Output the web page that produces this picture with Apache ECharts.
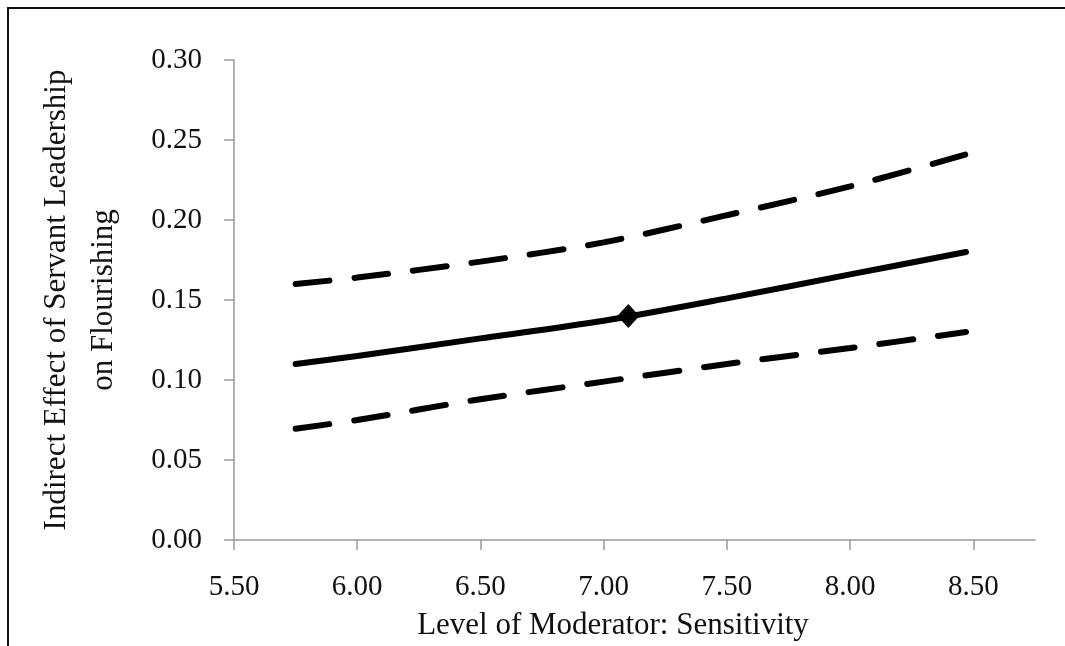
<!DOCTYPE html>
<html>
<head>
<meta charset="utf-8">
<script src="https://cdn.jsdelivr.net/npm/echarts@6/dist/echarts.min.js"></script>
<style>
html,body{margin:0;padding:0;background:#fff;}
#wrap{position:relative;width:1065px;height:646px;overflow:hidden;}
#chart{width:1065px;height:646px;}
#frame{position:absolute;left:7px;top:7px;width:1100px;height:700px;border-top:2px solid #111;border-left:2px solid #111;pointer-events:none;}
</style>
</head>
<body>
<div id="wrap"><div id="chart"></div><div id="frame"></div></div>
<script>
// Data
const xTicks = [5.5, 6.0, 6.5, 7.0, 7.5, 8.0, 8.5];
const yTicks = [0, 0.05, 0.10, 0.15, 0.20, 0.25, 0.30];
const moderatorX = [5.75, 6.0, 6.5, 7.0, 7.5, 8.0, 8.47];
const indirectEffect = [0.110, 0.115, 0.126, 0.137, 0.151, 0.166, 0.180];
const upperCI = [0.160, 0.164, 0.174, 0.186, 0.203, 0.221, 0.241];
const lowerCI = [0.0695, 0.075, 0.088, 0.099, 0.110, 0.120, 0.130];
const markerPoint = [[7.1, 0.14]];

const pairs = ys => moderatorX.map((x, i) => [x, ys[i]]);
const FONT = '"Liberation Serif", "DejaVu Serif", serif';
const LFS = 29;
const NFS = 31;

const chart = echarts.init(document.getElementById('chart'), null, {renderer: 'canvas'});
chart.setOption({
  animation: false,
  backgroundColor: '#ffffff',
  grid: {left: 234, right: 30, top: 60, bottom: 104, containLabel: false},
  xAxis: {
    type: 'value', min: 5.5, max: 8.75, interval: 0.5,
    name: 'Level of Moderator: Sensitivity',
    nameLocation: 'middle', nameGap: 70,
    nameTextStyle: {fontFamily: FONT, fontSize: NFS, color: '#111', padding: [0, 43, 0, 0]},
    axisLine: {show: true, lineStyle: {color: '#999', width: 1.5}},
    axisTick: {show: true, length: 10, inside: false, customValues: xTicks, lineStyle: {color: '#999', width: 1.5}},
    axisLabel: {customValues: xTicks, margin: 33, fontFamily: FONT, fontSize: LFS, color: '#111',
      formatter: v => v.toFixed(2)},
    splitLine: {show: false}
  },
  yAxis: {
    type: 'value', min: 0, max: 0.3, interval: 0.05,
    name: 'Indirect Effect of Servant Leadership\non Flourishing',
    nameLocation: 'middle', nameGap: 107, nameRotate: 90,
    nameTextStyle: {fontFamily: FONT, fontSize: NFS, color: '#111', lineHeight: 47},
    axisLine: {show: true, lineStyle: {color: '#999', width: 1.5}},
    axisTick: {show: true, length: 10, inside: false, lineStyle: {color: '#999', width: 1.5}},
    axisLabel: {margin: 32, fontFamily: FONT, fontSize: LFS, color: '#111',
      formatter: v => v.toFixed(2)},
    splitLine: {show: false}
  },
  series: [
    {name: 'Upper', type: 'line', data: pairs(upperCI), smooth: 0.3, showSymbol: false,
      lineStyle: {color: '#000', width: 6, type: [34, 25], cap: 'round'}},
    {name: 'Effect', type: 'line', data: pairs(indirectEffect), smooth: 0.3, showSymbol: false,
      lineStyle: {color: '#000', width: 6, cap: 'round'}},
    {name: 'Lower', type: 'line', data: pairs(lowerCI), smooth: 0.3, showSymbol: false,
      lineStyle: {color: '#000', width: 6, type: [34, 25], cap: 'round'}},
    {name: 'Point', type: 'scatter', data: markerPoint, symbol: 'diamond', symbolSize: [22, 24],
      itemStyle: {color: '#000', opacity: 1}, z: 5}
  ]
});
</script>
</body>
</html>
